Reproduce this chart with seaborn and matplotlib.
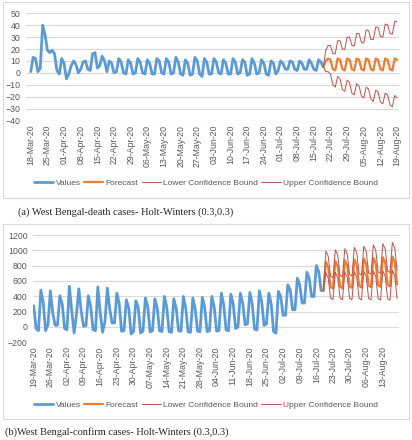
import pandas as pd
import seaborn as sns
import matplotlib.pyplot as plt
import matplotlib.dates as mdates
from matplotlib.patches import Rectangle

# (a) death cases
death_start = "2020-03-18"
death_values = [1, 13, 12, 1, 4, 40, 32, 19, 17, 19, 16, 2, -1, 12, 8, -5, -1, 6, 10, 7,
                0, 3, 9, 10, 3, 2, 16, 17, 4, 6, 14, 10, 1,
                10, 8, 0, 1, 12, 9, 0, -1, 11, 8, -1, 0, 12, 9, 0, -1, 11, 8, -1, -1,
                12, 10, 0, -1, 12, 9, -1, 0, 13, 9, -1, -2, 11, 8, -2, -1, 13, 10, -1, -3,
                12, 9, -1, -1, 12, 9, 0, -1, 11, 8, -1, -1, 12, 9, -1, 0, 11, 9, -2, -1,
                12, 8, -1, 0, 11, 8, -1, -2, 10, 8, -1, 2, 10, 8, 3, 3, 10, 9, 3, 2,
                10, 8, 3, 3, 11, 8, 3, 2, 11, 9, 5]
death_fc_start = "2020-07-19"
death_forecast = [5, 10, 12, 11, 3, 2, 12, 11, 3, 2, 12, 11, 3, 2, 12, 11, 3, 2, 12, 11,
                  3, 2, 12, 11, 3, 2, 12, 11, 3, 2, 12, 11]
death_lower = [5, 1, 1, -1, -10, -12, -3, -5, -14, -15.5, -6, -8, -17, -18.5, -9, -11,
               -19.5, -21, -12, -13.5, -22, -24, -14.5, -16, -24.5, -26, -17, -18.5,
               -27, -28.5, -19, -21]
death_upper = [5, 19, 23, 23, 16, 16, 27, 27, 20, 19.5, 30, 30, 23, 22.5, 33, 33, 25.5,
               25, 36, 35.5, 28, 28, 38.5, 38, 30.5, 30, 41, 40.5, 33, 32.5, 43, 43]

# (b) confirmed cases
conf_start = "2020-03-19"
conf_values = [277, -22, -48, 480, 325, -48, 30, 472, 182, 22, 22, 407, 299, -22, -35,
               532, 212, -78, 160, 498, 204, 9, 17, 407, 264, -35, -48, 524, 182, -69,
               74, 507, 238, 52, 52, 442, 299, -56, -48, 355, 247, -91, -65, 342, 255,
               -78, -56, 377, 268, -65, -48,
               368, 250, -50, -60, 398, 260, -60, -70, 368, 240, -50, -55, 398, 250, -65,
               -70, 377, 230, -55, -60, 385, 250, -60, -50, 398, 260, -55, -45, 442, 290,
               -40, -50, 429, 300, -20, 0, 442, 310, 30, 40, 450, 300, -30, -40, 472, 330,
               20, 40, 442, 300, -60, -80,
               463, 398, 152, 152, 550, 485, 225, 225, 636, 550, 312, 312, 714, 636, 398,
               398, 801, 723, 476, 476]
conf_fc_start = "2020-07-19"
conf_forecast = [476, 850, 780, 520, 500, 860, 790, 525, 505, 870, 800, 530, 510, 880, 810,
                 535, 515, 890, 820, 540, 520, 900, 830, 545, 525, 910, 840, 550, 530,
                 920, 850, 555]
conf_lower = [476, 710, 639, 377, 356, 714, 643, 376, 355, 718, 647, 375, 354, 722, 651,
              374, 353, 726, 655, 373, 352, 730, 659, 372, 351, 734, 663, 371, 350, 738,
              667, 370]
conf_upper = [476, 990, 921, 663, 644, 1006, 937, 674, 655, 1022, 953, 685, 666, 1038, 969,
              696, 677, 1054, 985, 707, 688, 1070, 1001, 718, 699, 1086, 1017, 729, 710,
              1102, 1033, 740]

BLUE = "#5b9bd5"
ORANGE = "#ed7d31"
RED = "#c0504d"
GRID = "#d9d9d9"
TXT = "#595959"

sns.set_style("white")
plt.rcParams["font.family"] = ["Liberation Sans", "DejaVu Sans"]

fig = plt.figure(figsize=(4.12, 4.40), dpi=100)
W, H = 412, 440


def panel(rect, start, vals, fc_start, fc, lo, hi, ylim, ystep, tick_start, nticks, xlim, leg_y):
    ax = fig.add_axes(rect)
    d = pd.DataFrame({"date": pd.date_range(start, periods=len(vals)), "v": vals})
    f = pd.DataFrame({"date": pd.date_range(fc_start, periods=len(fc)),
                      "fc": fc, "lo": lo, "hi": hi})
    sns.lineplot(data=d, x="date", y="v", ax=ax, color=BLUE, lw=2.0, label="Values")
    sns.lineplot(data=f, x="date", y="fc", ax=ax, color=ORANGE, lw=1.6, label="Forecast")
    sns.lineplot(data=f, x="date", y="lo", ax=ax, color=RED, lw=0.7, label="Lower Confidence Bound")
    sns.lineplot(data=f, x="date", y="hi", ax=ax, color=RED, lw=0.7, label="Upper Confidence Bound")
    ax.set_ylim(*ylim)
    ax.set_yticks(range(ylim[0], ylim[1] + 1, ystep))
    ax.set_xlim(xlim)
    ax.set_xticks(pd.date_range(tick_start, periods=nticks, freq="7D"))
    ax.xaxis.set_major_formatter(mdates.DateFormatter("%d-%b-%y"))
    ax.tick_params(axis="x", rotation=90, labelsize=6.3, colors=TXT, length=0, pad=3)
    ax.tick_params(axis="y", labelsize=6.3, colors=TXT, length=0, pad=4)
    ax.grid(axis="y", color=GRID, lw=0.8)
    ax.set_axisbelow(True)
    for s in ax.spines.values():
        s.set_visible(False)
    ax.set_xlabel("")
    ax.set_ylabel("")
    ax.legend(loc="center", bbox_to_anchor=(0.5, leg_y), bbox_transform=fig.transFigure,
              ncol=4, frameon=False, fontsize=6.0, handlelength=2.3, columnspacing=0.4,
              handletextpad=0.3, labelcolor=TXT)
    return ax


t = pd.Timestamp
panel([26 / W, 1 - 120.5 / H, 373 / W, 107.2 / H], death_start, death_values,
      death_fc_start, death_forecast, death_lower, death_upper, (-40, 50), 10,
      "2020-03-18", 23, (t("2020-03-18") - pd.Timedelta(days=2), t("2020-03-18") + pd.Timedelta(days=154.8)),
      1 - 182.7 / H)
panel([33 / W, 1 - 342.3 / H, 366 / W, 107.3 / H], conf_start, conf_values,
      conf_fc_start, conf_forecast, conf_lower, conf_upper, (-200, 1200), 200,
      "2020-03-19", 22, (t("2020-03-19") - pd.Timedelta(days=0.3), t("2020-03-19") + pd.Timedelta(days=153.8)),
      1 - 405 / H)

# chart borders
fig.patches.append(Rectangle((3 / W, 1 - 198 / H), 406 / W, 196 / H, transform=fig.transFigure,
                             fill=False, edgecolor=GRID, lw=0.8))
fig.patches.append(Rectangle((3 / W, 1 - 419 / H), 406 / W, 195 / H, transform=fig.transFigure,
                             fill=False, edgecolor=GRID, lw=0.8))

fig.text(18 / W, 1 - 212 / H, "(a) West Bengal-death cases- Holt-Winters (0.3,0.3)",
         family="Liberation Serif", fontsize=7.5, va="center")
fig.text(5 / W, 1 - 432 / H, "(b)West Bengal-confirm cases- Holt-Winters (0.3,0.3)",
         family="Liberation Serif", fontsize=7.5, va="center")

fig.savefig("out.png", dpi=100)
